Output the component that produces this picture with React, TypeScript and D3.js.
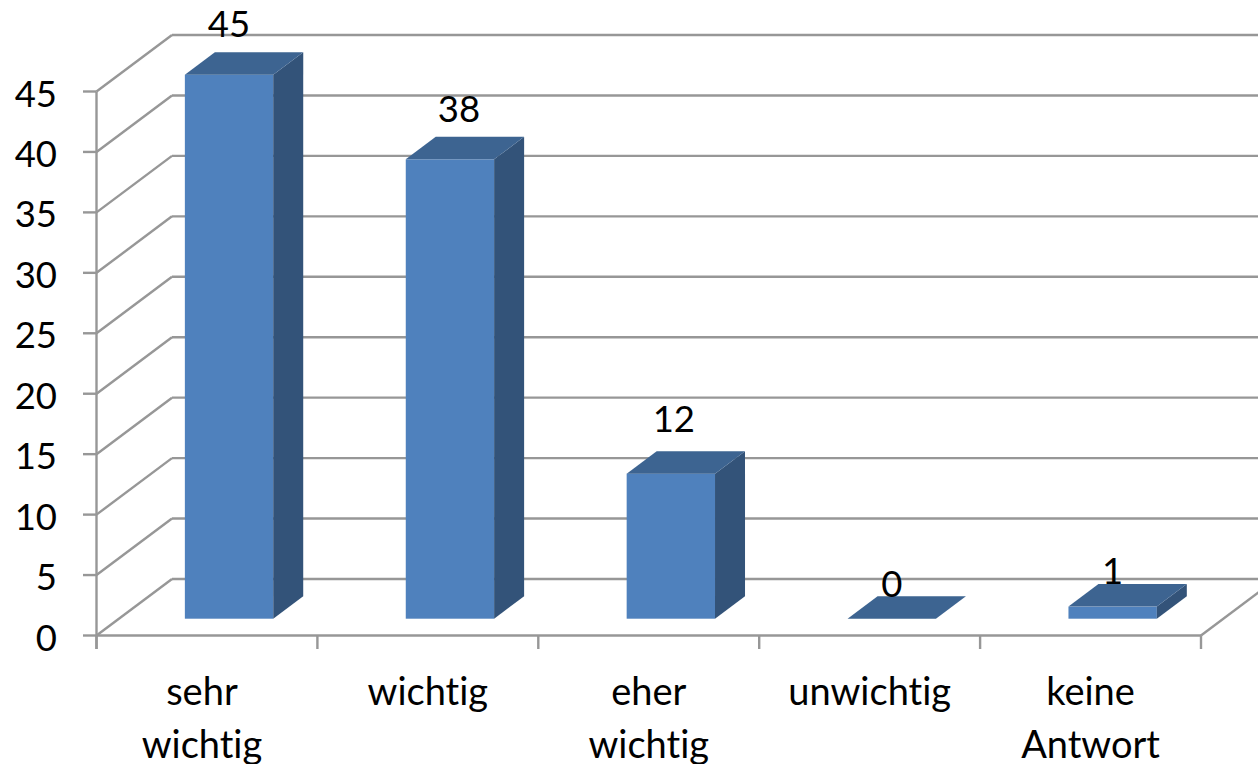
import { useEffect, useRef } from 'react';
import * as d3 from 'd3';

const categories = [['sehr', 'wichtig'], ['wichtig'], ['eher', 'wichtig'], ['unwichtig'], ['keine', 'Antwort']];
const values = [45, 38, 12, 0, 1];
const yTicks = [0, 5, 10, 15, 20, 25, 30, 35, 40, 45];

const WIDTH = 1258;
const HEIGHT = 764;
const FONT = 'Lato, Carlito, sans-serif';

const App = () => {
  const svgRef = useRef<SVGSVGElement>(null);

  useEffect(() => {
    if (!svgRef.current) return;
    const svg = d3.select(svgRef.current);
    svg.selectAll('*').remove();

    // front plane of the fake 3d box
    const x = d3.scaleBand<number>().domain(d3.range(values.length)).range([96.5, 1201]);
    const y = d3.scaleLinear().domain([0, 45]).range([635.5, 91.5]);
    const depthX = 75.5;
    const depthY = -56.5;
    const barDx = 30;
    const barDy = -22.5;
    const barBase = 618.7;
    const unit = y(0) - y(1);

    // the original's labels don't sit evenly, so nudge them by hand
    const labelDx = [0, 9, 3, 0, 0];
    const labelLift = [38.2, 37, 42, 22, 23];
    const categoryDx = [-5, 0, 0, 0, 0];

    const grid = svg.append('g').attr('stroke', '#979797').attr('stroke-width', 2.4).attr('fill', 'none');

    yTicks.forEach((t) => {
      const py = y(t);
      grid.append('line').attr('x1', 83).attr('x2', 96.5).attr('y1', py).attr('y2', py);
      grid.append('line').attr('x1', 96.5).attr('y1', py).attr('x2', 96.5 + depthX).attr('y2', py + depthY);
      grid.append('line').attr('x1', 96.5 + depthX).attr('y1', py + depthY).attr('x2', WIDTH).attr('y2', py + depthY);
    });
    grid.append('line').attr('x1', 96.5).attr('x2', 96.5).attr('y1', y(45)).attr('y2', 649);
    grid.append('line').attr('x1', 96.5).attr('x2', 1201).attr('y1', y(0)).attr('y2', y(0));
    grid.append('line').attr('x1', 1201).attr('y1', y(0)).attr('x2', 1201 + depthX).attr('y2', y(0) + depthY);
    [...x.domain(), values.length].forEach((i) => {
      const px = 96.5 + i * x.bandwidth();
      grid.append('line').attr('x1', px).attr('x2', px).attr('y1', y(0)).attr('y2', 649);
    });

    const barWidth = x.bandwidth() * 0.4;
    const barOffset = x.bandwidth() * 0.4;
    const line = d3.line();

    values.forEach((v, i) => {
      const x0 = (x(i) as number) + barOffset;
      const x1 = x0 + barWidth;
      const top = barBase - v * unit;
      const g = svg.append('g');
      if (v > 0) {
        g.append('rect').attr('x', x0).attr('y', top).attr('width', barWidth).attr('height', barBase - top).attr('fill', '#4f81bd');
        g.append('path')
          .attr('d', line([[x1, top], [x1 + barDx, top + barDy], [x1 + barDx, barBase + barDy], [x1, barBase]]))
          .attr('fill', '#335379');
      }
      g.append('path')
        .attr('d', line([[x0, top], [x0 + barDx, top + barDy], [x1 + barDx, top + barDy], [x1, top]]))
        .attr('fill', '#3d6491');
    });

    const text = svg.append('g')
      .attr('font-family', FONT)
      .attr('font-size', 36.5)
      .attr('fill', '#000')
      .style('font-variant-ligatures', 'none');

    yTicks.forEach((t) => {
      text.append('text').attr('x', 57).attr('y', y(t) + 15).attr('text-anchor', 'end').text(t);
    });

    values.forEach((v, i) => {
      const top = barBase - v * unit;
      text.append('text')
        .attr('x', (x(i) as number) + barOffset + barWidth / 2 + labelDx[i])
        .attr('y', top - labelLift[i])
        .attr('text-anchor', 'middle')
        .text(v);
    });

    categories.forEach((lines, i) => {
      lines.forEach((l, j) => {
        text.append('text')
          .attr('x', (x(i) as number) + x.bandwidth() / 2 + categoryDx[i])
          .attr('y', 704.5 + j * 53)
          .attr('font-size', 38)
          .attr('text-anchor', 'middle')
          .text(l);
      });
    });
  }, []);

  return (
    <svg
      ref={svgRef}
      width={WIDTH}
      height={HEIGHT}
      style={{ position: 'absolute', left: 0, top: 0, background: '#fff' }}
    />
  );
};

export default App;
